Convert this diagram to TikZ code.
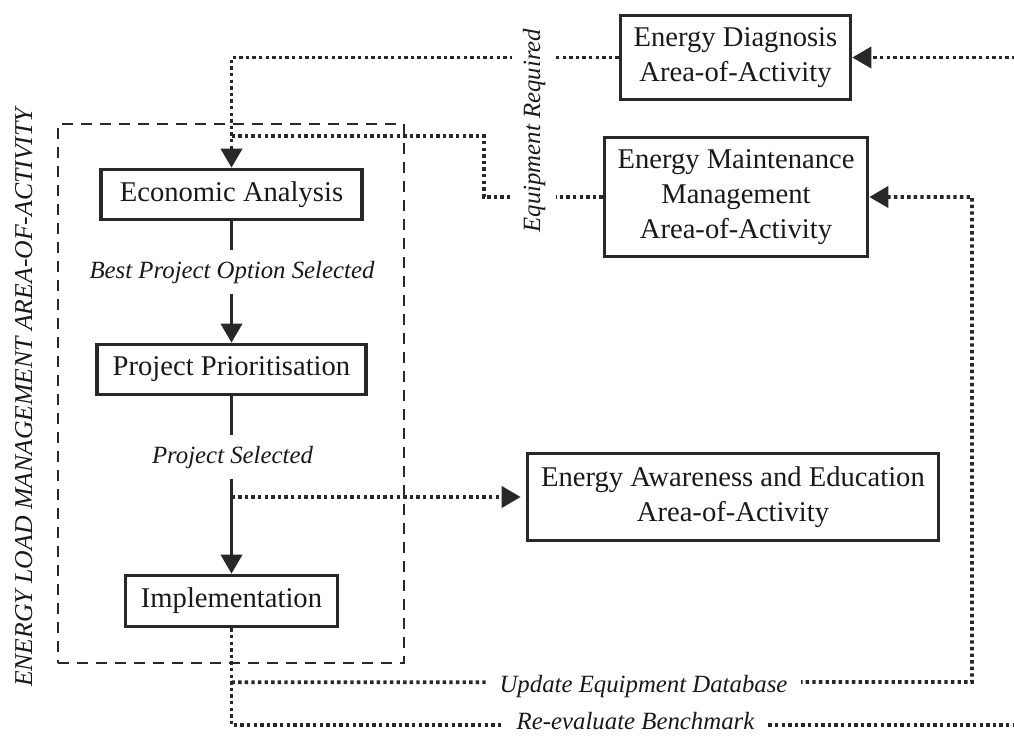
\documentclass[tikz,border=0pt]{standalone}
\usepackage{fontspec}
\setmainfont{Liberation Serif}
\usetikzlibrary{arrows.meta}
\definecolor{ink}{RGB}{40,40,40}
\definecolor{txt}{RGB}{25,25,25}
\tikzset{
  boxnode/.style={draw=ink, line width=3.6pt, inner sep=0pt, align=center, text=txt,
    font=\fontsize{28.6}{35}\selectfont},
  groupbox/.style={draw=ink, line width=2.6pt, dash pattern=on 11pt off 8pt, inner sep=0pt},
  dotline/.style={draw=ink, line width=3.8pt, dash pattern=on 3.4pt off 3.2pt},
  dotarrow/.style={dotline, -{Triangle[length=19pt,width=21pt]}},
  solidarrow/.style={draw=ink, line width=3.6pt, -{Triangle[length=19pt,width=21pt]}},
  lbl/.style={fill=white, text=txt, inner xsep=14pt, inner ysep=11pt,
    font=\fontsize{24.8}{30}\selectfont\itshape},
  sidelbl/.style={text=txt, inner sep=0pt, font=\fontsize{25.7}{30}\selectfont\itshape}
}
\begin{document}
\begin{tikzpicture}[x=1pt,y=-1pt]
\useasboundingbox (0,0) rectangle (1014,736);
\clip (0,0) rectangle (1014,736);
% group box
\node[groupbox, minimum width=346pt, minimum height=539pt] (elm) at (231,393.5) {};
% boxes
\node[boxnode, minimum width=261pt, minimum height=50pt] (Econ) at (231.5,194.5) {Economic Analysis};
\node[boxnode, minimum width=269pt, minimum height=50pt] (Proj) at (231.5,369.5) {Project Prioritisation};
\node[boxnode, minimum width=212pt, minimum height=51pt] (Impl) at (231.5,601) {Implementation};
\node[boxnode, minimum width=230pt, minimum height=84pt] (Diag) at (735.5,57.5) {Energy Diagnosis\\Area-of-Activity};
\node[boxnode, minimum width=263pt, minimum height=119pt] (Maint) at (736,197) {Energy Maintenance\\Management\\Area-of-Activity};
\node[boxnode, minimum width=411pt, minimum height=87pt] (Aware) at (733,497) {Energy Awareness and Education\\Area-of-Activity};
% helper coordinates
\path (Econ.north) ++(0,-32) coordinate (j1);
\path (Impl.south) ++(0,54) coordinate (j2);
\coordinate (j3) at (Proj.south |- Aware.west);
\coordinate (c2) at (972,682);
\coordinate (c4) at (1030,725);
% dotted connectors
\draw[dotarrow] (Diag.west) -| (Econ.north);
\draw[dotline] (Maint.west) -- ++(-119,0) |- (j1);
\draw[dotarrow] (j2) -- (c2) |- (Maint.east);
\draw[dotarrow] (Impl.south) |- (c4) |- (Diag.east);
\draw[dotarrow, shorten >=5pt] (j3) -- (Aware.west);
% solid connectors
\draw[solidarrow] (Econ.south) -- (Proj.north);
\draw[solidarrow] (Proj.south) -- (Impl.north);
% labels
\node[lbl, anchor=base] (l1) at (232,278) {Best Project Option Selected};
\node[lbl, anchor=base] (l2) at (232.5,463) {Project Selected};
\node[lbl, anchor=base, rotate=90] (l3) at (540,130.5) {Equipment Required};
\node[lbl, anchor=base] (l4) at (643.5,692) {Update Equipment Database};
\node[lbl, anchor=base, inner ysep=6pt] (l5) at (635.5,729) {Re-evaluate Benchmark};
\node[sidelbl, anchor=base, rotate=90] (l6) at (32,397.5) {ENERGY LOAD MANAGEMENT AREA-OF-ACTIVITY};
\end{tikzpicture}
\end{document}
